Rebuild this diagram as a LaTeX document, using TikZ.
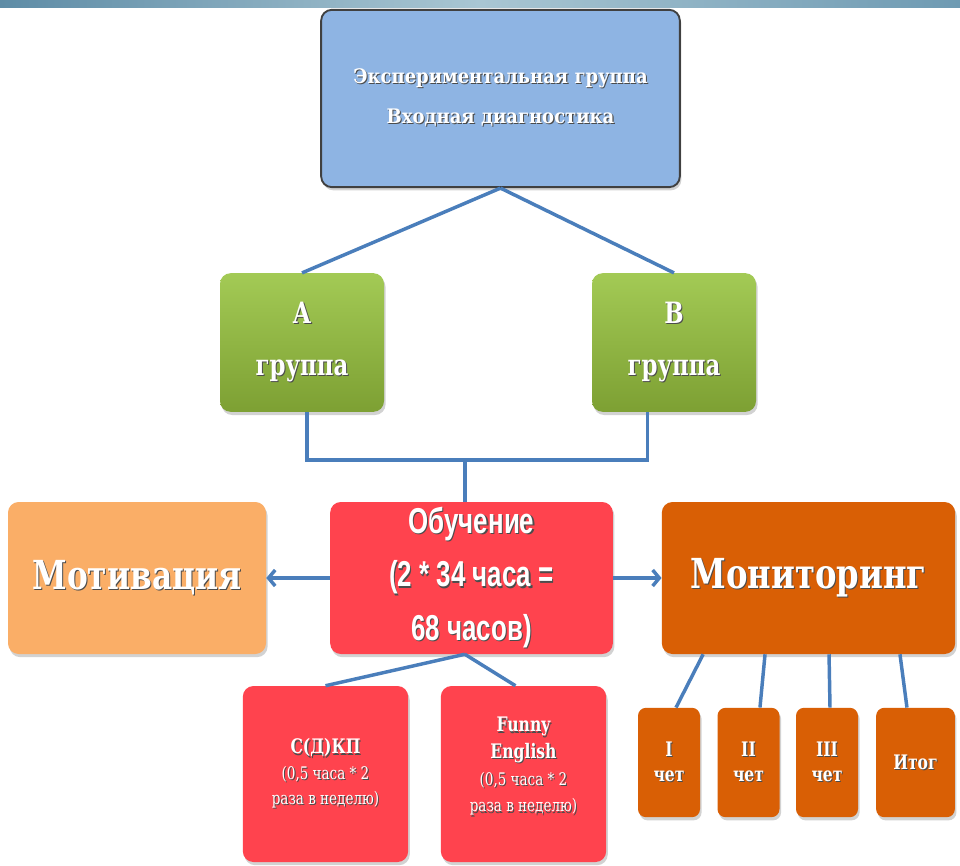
\documentclass[tikz,border=0pt]{standalone}
\usepackage{fontspec}
\usetikzlibrary{shadows,arrows.meta}
\newfontfamily\slab[FakeStretch=0.78]{DejaVu Serif}
\newfontfamily\slabw[FakeStretch=0.9]{DejaVu Serif}
\newfontfamily\narrow[FakeStretch=0.72]{Liberation Sans}
\newcommand\st[1]{\makebox[0pt][l]{\hspace{0.8pt}\raisebox{-0.8pt}{\textcolor{black!70}{#1}}}#1}
\definecolor{topblue}{HTML}{8EB4E3}
\definecolor{grA}{HTML}{A3CA55}
\definecolor{grB}{HTML}{7DA033}
\definecolor{peach}{HTML}{FAAE67}
\definecolor{redb}{HTML}{FF434E}
\definecolor{rust}{HTML}{D95F05}
\definecolor{linkc}{HTML}{4A7EBB}
\definecolor{ban1}{HTML}{5E8CA6}
\definecolor{ban2}{HTML}{A9C6D3}
\definecolor{ban3}{HTML}{6E9AB2}
\begin{document}
\begin{tikzpicture}[x=0.75pt,y=-0.75pt,
  box/.style={rectangle, rounded corners=8pt, text=white, align=center, inner sep=2pt,
    drop shadow={shadow xshift=1.2pt,shadow yshift=-2.4pt,opacity=0.35}},
  link/.style={draw=linkc, line width=2.6pt},
  arr/.style={link, -{Straight Barb[length=5pt,width=12pt]}}]
\useasboundingbox (0,0) rectangle (960,866);
\fill[white] (0,0) rectangle (960,866);
\shade[left color=ban1, right color=ban3, middle color=ban2] (0,0) rectangle (960,8);

% top
\node[box, fill=topblue, draw=black!75, line width=1.4pt, minimum width=269pt, minimum height=133pt,
  font=\slabw\bfseries\fontsize{15}{30}\selectfont] (top) at (500.5,98.5)
  {\mbox{}\\[-20pt]\st{Экспериментальная группа}\\\st{Входная диагностика}};

% groups
\node[box, top color=grA, bottom color=grB, minimum width=123pt, minimum height=104pt,
  font=\slab\bfseries\fontsize{22}{39}\selectfont] (A) at (302,342.5) {\st{А}\\\st{группа}};
\node[box, top color=grA, bottom color=grB, minimum width=123pt, minimum height=104pt,
  font=\slab\bfseries\fontsize{22}{39}\selectfont] (B) at (674,342.5) {\st{В}\\\st{группа}};

% middle row
\node[box, fill=redb, minimum width=212pt, minimum height=114pt,
  font=\narrow\bfseries\fontsize{27}{40}\selectfont] (ob) at (471.5,578)
  {\st{Обучение}\\\st{(2 * 34 часа =}\\\st{68 часов)}};
\node[box, fill=peach, minimum width=193.5pt, minimum height=114pt,
  font=\slab\bfseries\fontsize{30}{36}\selectfont] (mot) at (137,578) {\st{Мотивация}};
\node[box, fill=rust, minimum width=220pt, minimum height=114pt,
  font=\slab\bfseries\fontsize{31}{36}\selectfont] (mon) at (808.5,578) {\st{Мониторинг}};

% sub boxes
\node[box, fill=redb, minimum width=124pt, minimum height=132pt,
  font=\slab\fontsize{13}{19}\selectfont] (sdkp) at (325.5,774)
  {{\bfseries\fontsize{15}{27}\selectfont\st{С(Д)КП}}\\\st{(0,5 часа * 2}\\\st{раза в неделю)}};
\node[box, fill=redb, minimum width=124pt, minimum height=132pt,
  font=\slab\fontsize{13}{20}\selectfont] (fun) at (523.5,774)
  {{\bfseries\fontsize{15}{20}\selectfont\st{Funny}}\\{\bfseries\fontsize{15}{20}\selectfont\st{English}}\\\st{(0,5 часа * 2}\\\st{раза в неделю)}\\[-6pt]\mbox{}};

% monitoring children
\node[box, fill=rust, rounded corners=6pt, minimum width=46.5pt, minimum height=82pt,
  font=\slab\bfseries\fontsize{15}{19}\selectfont] (q1) at (669,762.5) {\st{I}\\\st{чет}};
\node[box, fill=rust, rounded corners=6pt, minimum width=46.5pt, minimum height=82pt,
  font=\slab\bfseries\fontsize{15}{19}\selectfont] (q2) at (748.5,762.5) {\st{II}\\\st{чет}};
\node[box, fill=rust, rounded corners=6pt, minimum width=46.5pt, minimum height=82pt,
  font=\slab\bfseries\fontsize{15}{19}\selectfont] (q3) at (827,762.5) {\st{III}\\\st{чет}};
\node[box, fill=rust, rounded corners=6pt, minimum width=59pt, minimum height=82pt,
  font=\slab\bfseries\fontsize{15}{19}\selectfont] (it) at (915.5,762.5) {\st{Итог}};

% connectors
\draw[link] (top.south) -- (A.north);
\draw[link] (top.south) -- (B.north);
\coordinate (j) at (465,460);
\draw[link] ([xshift=3.75pt]A.south) |- (j) -| ([xshift=-20pt]B.south);
\draw[link] (j) -- (j |- ob.north);
\draw[arr] (ob.west) -- (mot.east);
\draw[arr] (ob.east) -- (mon.west);
\draw[link] ([xshift=-5pt]ob.south) -- (sdkp.north);
\draw[link] ([xshift=-5pt]ob.south) -- ([xshift=-6pt]fun.north);
\draw[link] ([xshift=-79pt]mon.south) -- ([xshift=5.25pt]q1.north);
\draw[link] ([xshift=-32.6pt]mon.south) -- ([xshift=8.6pt]q2.north);
\draw[link] ([xshift=15.4pt]mon.south) -- ([xshift=2.25pt]q3.north);
\draw[link] ([xshift=68.6pt]mon.south) -- ([xshift=-6.4pt]it.north);
\end{tikzpicture}
\end{document}
